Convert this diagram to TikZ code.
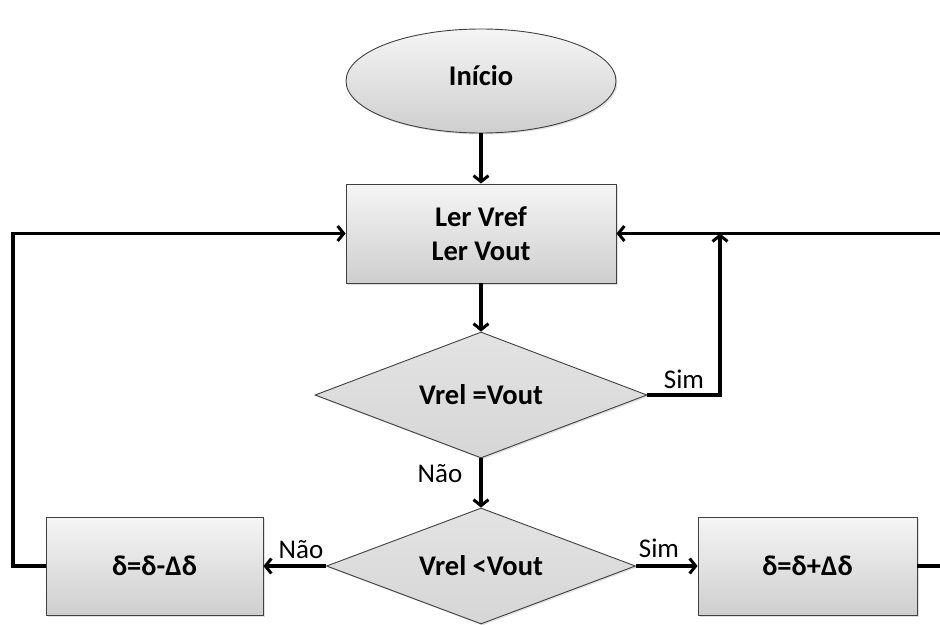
\documentclass[tikz,border=0pt]{standalone}
\usepackage{fontspec}
\setmainfont{Carlito}
\usetikzlibrary{shapes.geometric,arrows.meta,shadows}
\begin{document}
\begin{tikzpicture}[x=1pt,y=-1pt,
  shp/.style={draw=black!75, line width=0.9pt, top color=gray!8, bottom color=gray!38,
    font=\bfseries\fontsize{28.5}{34}\selectfont, align=center, inner sep=0pt,
    drop shadow={opacity=0.25, shadow xshift=1.5pt, shadow yshift=-1.5pt}},
  boxn/.style={shp, rectangle},
  ell/.style={shp, ellipse},
  dia/.style={shp, diamond, top color=gray!22, bottom color=gray!32},
  dtext/.style={font=\bfseries\fontsize{28.5}{34}\selectfont, inner sep=0pt},
  arr/.style={line width=3.4pt, -{Straight Barb[length=6pt,width=15pt,line width=3pt]}},
  ln/.style={line width=3.4pt},
  lbl/.style={font=\fontsize{27}{30}\selectfont, inner sep=0pt}]
\useasboundingbox (0,0) rectangle (940,624);
\clip (0,0) rectangle (940,624);
\node[ell, minimum width=270pt, minimum height=104pt] (start) at (481,81) {};
\node[dtext] (startt) at (481,76) {Início};
\node[boxn, minimum width=270pt, minimum height=99pt] (read) at (481,233.5) {Ler Vref\\Ler Vout};
\node[dia, minimum width=332pt, minimum height=126pt] (eq) at (481,395) {};
\node[dtext] (eqt) at (481,395) {Vrel =Vout};
\node[dia, minimum width=309pt, minimum height=116pt] (lt) at (481,566) {};
\node[dtext] (ltt) at (481,566) {Vrel <Vout};
\node[boxn, minimum width=217pt, minimum height=98pt] (minus) at (154.5,566) {δ=δ-Δδ};
\node[boxn, minimum width=219pt, minimum height=98pt] (plus) at (807.5,566) {δ=δ+Δδ};
\coordinate (simj) at (720,233.5);
\coordinate (rtop) at (940,233.5);
\coordinate (rbot) at (940,566);
\coordinate (lc) at (13,566);
\draw[arr] (start) -- (read);
\draw[arr] (read) -- (eq);
\draw[arr] (eq.east) -| (simj);
\draw[arr] (rtop) -- (read.east);
\draw[arr] (eq) -- (lt);
\draw[arr] (lt.west) -- (minus.east);
\draw[arr] (lt.east) -- (plus.west);
\draw[arr] (minus.west) -- (lc) |- (read.west);
\draw[ln] (plus.east) -- (rbot);
\node[lbl] (l1) at (684,379) {Sim};
\node[lbl] (l2) at (440,474) {Não};
\node[lbl] (l3) at (301,550) {Não};
\node[lbl] (l4) at (659,548) {Sim};
\end{tikzpicture}
\end{document}
